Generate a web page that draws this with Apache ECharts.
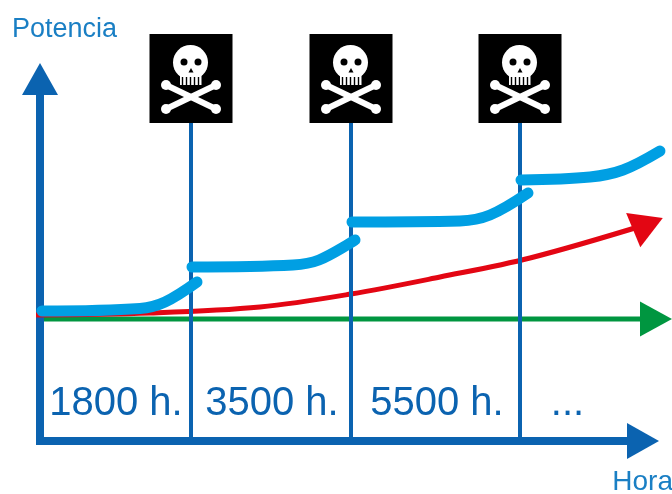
<!DOCTYPE html>
<html>
<head>
<meta charset="utf-8">
<title>Potencia</title>
<script src="https://cdn.jsdelivr.net/npm/echarts@6/dist/echarts.min.js"></script>
<style>
  html, body { margin: 0; padding: 0; background: #fff; }
  #chart { width: 672px; height: 494px; }
</style>
</head>
<body>
<div id="chart"></div>
<script>
const failureHours = [151, 311, 480];
const failureTop = 318;

const powerSteps = [
  [[2, 130], [100, 132.5], [125, 139], [157, 159]],
  [[152, 174], [253, 176], [279, 181], [315, 201]],
  [[312, 219], [420, 220], [450, 226], [488, 248]],
  [[481, 261], [550, 264], [583, 271], [620, 290]]
];
const degradation = [[-4, 126], [110, 128], [220, 134], [311, 147], [400, 164], [490, 183], [608, 217]];
const nominal = [[4, 122], [616, 122]];

const periodLabels = ['1800 h.', '3500 h.', '5500 h.', '...'];
const periodCenters = [76, 232, 397, 527.5];
const periodHeight = 37;

const darkBlue = '#0b63b0';
const lightBlue = '#009fe3';
const labelBlue = '#1a7fc4';

// grid 0 only carries the two visible axes, grid 1 is the same scale but reaches the canvas edge
const dataAxes = { xAxisIndex: 1, yAxisIndex: 1 };

function arrowData(points, rotate, size) {
  return points.map(function (p, i) {
    if (i < points.length - 1) return { value: p, symbol: 'none' };
    return { value: p, symbol: 'triangle', symbolSize: size, symbolRotate: rotate };
  });
}

function renderFlag(params, api) {
  const p = api.coord([api.value(0), api.value(1)]);
  const cx = p[0];
  const top = p[1] - 89;
  const white = { fill: '#fff' };
  const bones = [[-25, 51, 25, 75], [-25, 75, 25, 51]];
  const children = [
    { type: 'rect', shape: { x: cx - 41.5, y: top, width: 83, height: 89 }, style: { fill: '#000' } }
  ];
  bones.forEach(function (b) {
    children.push({ type: 'line', shape: { x1: cx + b[0], y1: top + b[1], x2: cx + b[2], y2: top + b[3] }, style: { stroke: '#fff', lineWidth: 6 } });
    children.push({ type: 'circle', shape: { cx: cx + b[0], cy: top + b[1], r: 5 }, style: white });
    children.push({ type: 'circle', shape: { cx: cx + b[2], cy: top + b[3], r: 5 }, style: white });
  });
  children.push(
    { type: 'circle', shape: { cx: cx - 0.5, cy: top + 28.5, r: 17.5 }, style: white },
    { type: 'rect', shape: { x: cx - 11, y: top + 36, width: 21.5, height: 15 }, style: white },
    { type: 'circle', shape: { cx: cx - 7, cy: top + 28, r: 3.5 }, style: { fill: '#000' } },
    { type: 'circle', shape: { cx: cx + 7, cy: top + 28, r: 3.5 }, style: { fill: '#000' } },
    { type: 'polygon', shape: { points: [[cx, top + 34], [cx - 2.5, top + 38.5], [cx + 2.5, top + 38.5]] }, style: { fill: '#000' } }
  );
  for (let i = 0; i < 5; i++) {
    const tx = cx - 8.5 + i * 4;
    children.push({ type: 'rect', shape: { x: tx - 0.7, y: top + 43, width: 1.4, height: 8 }, style: { fill: '#000' } });
  }
  return { type: 'group', children: children };
}

const chart = echarts.init(document.getElementById('chart'), null, { renderer: 'canvas' });

const series = [
  {
    ...dataAxes,
    type: 'line',
    name: 'nominal',
    z: 3,
    silent: true,
    animation: false,
    showAllSymbol: true,
    lineStyle: { color: '#009640', width: 5 },
    itemStyle: { color: '#009640' },
    data: arrowData(nominal, -90, [35, 32])
  },
  {
    ...dataAxes,
    type: 'line',
    name: 'degradation',
    z: 4,
    silent: true,
    animation: false,
    smooth: 0.35,
    smoothConstraint: false,
    showAllSymbol: true,
    lineStyle: { color: '#e30613', width: 5 },
    itemStyle: { color: '#e30613' },
    data: arrowData(degradation, -67.5, [37, 32])
  }
];

failureHours.forEach(function (h) {
  series.push({
    ...dataAxes,
    type: 'line',
    z: 5,
    silent: true,
    animation: false,
    symbol: 'none',
    lineStyle: { color: darkBlue, width: 4 },
    data: [[h, 0], [h, failureTop]]
  });
});

powerSteps.forEach(function (step) {
  series.push({
    ...dataAxes,
    type: 'line',
    z: 6,
    silent: true,
    animation: false,
    symbol: 'none',
    smooth: 0.35,
    smoothConstraint: false,
    lineStyle: { color: lightBlue, width: 11, cap: 'round', join: 'round' },
    data: step
  });
});

series.push({
  ...dataAxes,
  type: 'custom',
  z: 7,
  silent: true,
  animation: false,
  renderItem: renderFlag,
  data: failureHours.map(function (h) { return [h, failureTop]; })
});

series.push({
  ...dataAxes,
  type: 'scatter',
  z: 8,
  silent: true,
  animation: false,
  symbolSize: 1,
  itemStyle: { color: 'transparent', opacity: 1 },
  label: {
    show: true,
    position: 'inside',
    color: darkBlue,
    opacity: 1,
    fontFamily: 'Liberation Sans',
    fontSize: 40,
    formatter: function (p) { return p.name; }
  },
  data: periodLabels.map(function (name, i) {
    return { name: name, value: [periodCenters[i], periodHeight] };
  })
});

const axisLine = {
  show: true,
  onZero: false,
  symbol: ['none', 'triangle'],
  symbolSize: [36, 32],
  lineStyle: { color: darkBlue, width: 8, cap: 'square' }
};

chart.setOption({
  animation: false,
  backgroundColor: '#fff',
  grid: [
    { left: 40, right: 29, top: 79, bottom: 53, outerBoundsMode: 'none' },
    { left: 0, right: 0, top: 0, bottom: 53, outerBoundsMode: 'none' }
  ],
  xAxis: [
    {
      type: 'value',
      gridIndex: 0,
      min: 0,
      max: 603,
      name: 'Hora',
      nameLocation: 'end',
      nameGap: 0,
      nameTextStyle: {
        color: labelBlue,
        fontFamily: 'Liberation Sans',
        fontSize: 28,
        align: 'right',
        verticalAlign: 'top',
        padding: [27, -30, 0, 0]
      },
      axisLine: axisLine,
      axisTick: { show: false },
      axisLabel: { show: false },
      splitLine: { show: false }
    },
    { type: 'value', gridIndex: 1, min: -40, max: 632, show: false }
  ],
  yAxis: [
    {
      type: 'value',
      gridIndex: 0,
      min: 0,
      max: 362,
      name: 'Potencia',
      nameLocation: 'end',
      nameGap: 0,
      nameTextStyle: {
        color: labelBlue,
        fontFamily: 'Liberation Sans',
        fontSize: 27,
        align: 'left',
        verticalAlign: 'bottom',
        padding: [0, 0, 36, -28]
      },
      axisLine: axisLine,
      axisTick: { show: false },
      axisLabel: { show: false },
      splitLine: { show: false }
    },
    { type: 'value', gridIndex: 1, min: 0, max: 441, show: false }
  ],
  series: series
});
</script>
</body>
</html>
